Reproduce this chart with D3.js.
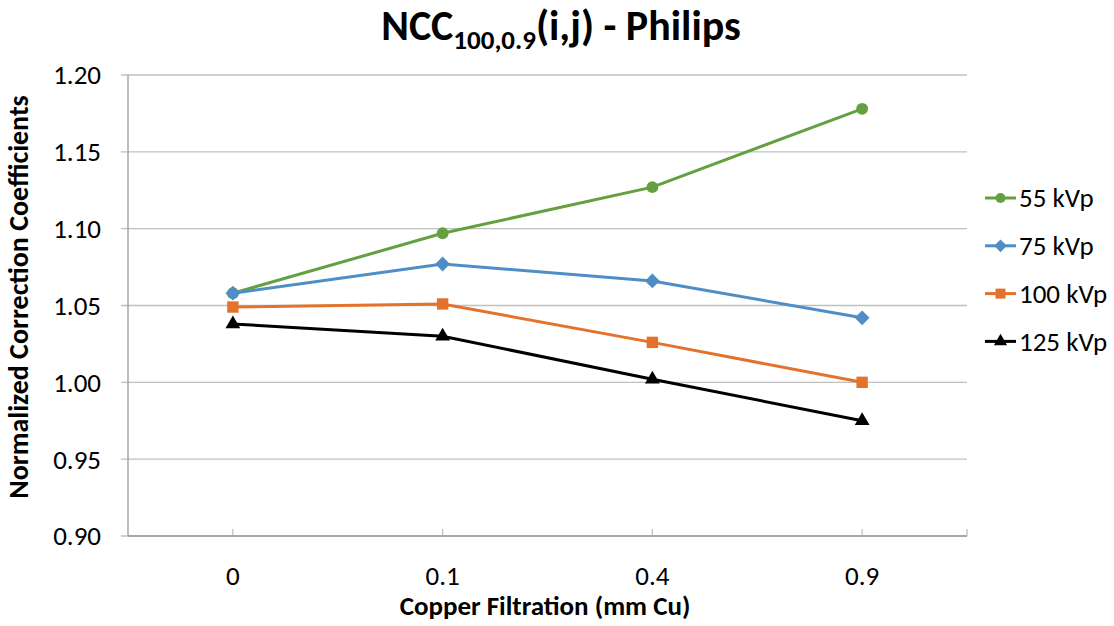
<!DOCTYPE html>
<html>
<head>
<meta charset="utf-8">
<script src="https://cdn.jsdelivr.net/npm/d3@7"></script>
<style>
  body { margin: 0; background: #fff; }
  svg text { font-family: Carlito, "Liberation Sans Narrow", "Open Sans", sans-serif; }
</style>
</head>
<body>
<div id="chart"></div>
<script>
// data
const categories = ["0", "0.1", "0.4", "0.9"];
const seriesNames = ["55 kVp", "75 kVp", "100 kVp", "125 kVp"];
const kv55 = [1.058, 1.097, 1.127, 1.178];
const kv75 = [1.058, 1.077, 1.066, 1.042];
const kv100 = [1.049, 1.051, 1.026, 1.000];
const kv125 = [1.038, 1.030, 1.002, 0.975];
const yTicks = [0.90, 0.95, 1.00, 1.05, 1.10, 1.15, 1.20];

const width = 1114, height = 626;
const margin = {top: 75, right: 147, bottom: 90, left: 128};

// square diamond (d3's own diamond is narrow)
const wideDiamond = {
    draw(ctx, size) {
        const r = Math.sqrt(size / 2);
        ctx.moveTo(0, -r);
        ctx.lineTo(r, 0);
        ctx.lineTo(0, r);
        ctx.lineTo(-r, 0);
        ctx.closePath();
    }
};

const series = [
    {name: seriesNames[0], values: kv55, color: "#64a040", symbol: d3.symbolCircle, size: 110, legendSize: 80},
    {name: seriesNames[1], values: kv75, color: "#4f8dc6", symbol: wideDiamond, size: 110, legendSize: 80},
    {name: seriesNames[2], values: kv100, color: "#e3732c", symbol: d3.symbolSquare, size: 130, legendSize: 100},
    {name: seriesNames[3], values: kv125, color: "#000000", symbol: d3.symbolTriangle, size: 95, legendSize: 75}
];

const svg = d3.select("#chart").append("svg")
    .attr("width", width)
    .attr("height", height);

const x = d3.scaleBand()
    .domain(categories)
    .range([margin.left, width - margin.right]);

const y = d3.scaleLinear()
    .domain([0.90, 1.20])
    .range([height - margin.bottom, margin.top]);

// gridlines
svg.append("g")
    .selectAll("line")
    .data(yTicks)
    .enter()
    .append("line")
    .attr("x1", margin.left - 7)
    .attr("x2", width - margin.right)
    .attr("y1", d => y(d))
    .attr("y2", d => y(d))
    .attr("stroke", "#c0c0c0")
    .attr("stroke-width", 1.3);

// y axis line
svg.append("line")
    .attr("x1", margin.left).attr("x2", margin.left)
    .attr("y1", margin.top).attr("y2", height - margin.bottom)
    .attr("stroke", "#9a9a9a")
    .attr("stroke-width", 1.3);

// y tick labels
svg.append("g")
    .selectAll("text")
    .data(yTicks)
    .enter()
    .append("text")
    .attr("x", margin.left - 27)
    .attr("y", d => y(d))
    .attr("dy", "0.35em")
    .attr("text-anchor", "end")
    .style("font-size", "27px")
    .text(d => d.toFixed(2));

// x tick marks + labels
const xg = svg.append("g");
xg.selectAll("line")
    .data(categories)
    .enter()
    .append("line")
    .attr("x1", d => x(d) + x.bandwidth() / 2)
    .attr("x2", d => x(d) + x.bandwidth() / 2)
    .attr("y1", y(0.90) - 7)
    .attr("y2", y(0.90))
    .attr("stroke", "#c0c0c0")
    .attr("stroke-width", 1.3);
xg.append("line")
    .attr("x1", margin.left).attr("x2", width - margin.right)
    .attr("y1", y(0.90)).attr("y2", y(0.90))
    .attr("stroke", "#9a9a9a")
    .attr("stroke-width", 1.3);
xg.append("line")
    .attr("x1", width - margin.right).attr("x2", width - margin.right)
    .attr("y1", y(0.90) - 7).attr("y2", y(0.90))
    .attr("stroke", "#c0c0c0")
    .attr("stroke-width", 1.3);
xg.selectAll("text")
    .data(categories)
    .enter()
    .append("text")
    .attr("x", d => x(d) + x.bandwidth() / 2)
    .attr("y", 585)
    .attr("text-anchor", "middle")
    .style("font-size", "27px")
    .text(d => d);

// lines and markers
const line = d3.line()
    .x((d, i) => x(categories[i]) + x.bandwidth() / 2)
    .y(d => y(d));

series.forEach(s => {
    svg.append("path")
        .datum(s.values)
        .attr("d", line)
        .attr("fill", "none")
        .attr("stroke", s.color)
        .attr("stroke-width", 3);
    svg.append("g")
        .selectAll("path")
        .data(s.values)
        .enter()
        .append("path")
        .attr("transform", (d, i) => `translate(${x(categories[i]) + x.bandwidth() / 2},${y(d)})`)
        .attr("d", d3.symbol().type(s.symbol).size(s.size))
        .attr("fill", s.color);
});

// title with subscript
const title = svg.append("text")
    .attr("x", 561)
    .attr("y", 40)
    .attr("text-anchor", "middle")
    .style("font-size", "42px")
    .style("font-weight", "bold");
title.append("tspan").text("NCC");
title.append("tspan").attr("dy", 9).style("font-size", "27px").text("100,0.9");
title.append("tspan").attr("dy", -9).text("(i,j) - Philips");

// axis titles
svg.append("text")
    .attr("x", 545)
    .attr("y", 615)
    .attr("text-anchor", "middle")
    .style("font-size", "27px")
    .style("font-weight", "bold")
    .text("Copper Filtration (mm Cu)");

svg.append("text")
    .attr("transform", "translate(28,297) rotate(-90)")
    .attr("text-anchor", "middle")
    .style("font-size", "28px")
    .style("font-weight", "bold")
    .text("Normalized Correction Coefficients");

// legend
const legend = svg.append("g")
    .attr("transform", "translate(985,198)");
const items = legend.selectAll("g")
    .data(series)
    .enter()
    .append("g")
    .attr("transform", (d, i) => `translate(0,${i * 47.8})`);
items.append("line")
    .attr("x1", 0).attr("x2", 31)
    .attr("stroke", d => d.color)
    .attr("stroke-width", 3);
items.append("path")
    .attr("transform", "translate(15.5,0)")
    .attr("d", d => d3.symbol().type(d.symbol).size(d.legendSize)())
    .attr("fill", d => d.color);
items.append("text")
    .attr("x", 34)
    .attr("dy", "0.35em")
    .style("font-size", "27px")
    .text(d => d.name);
</script>
</body>
</html>
